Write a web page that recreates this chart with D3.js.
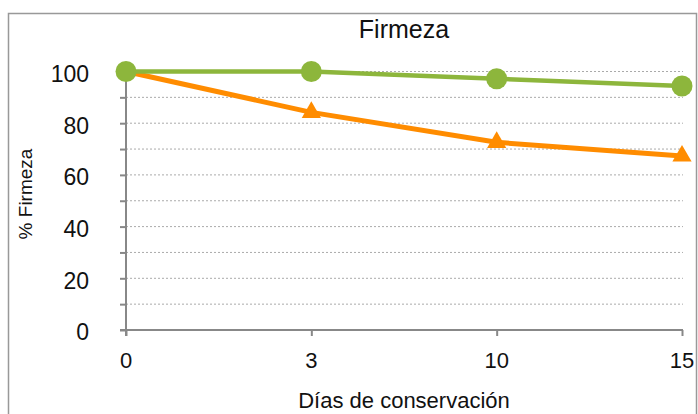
<!DOCTYPE html>
<html>
<head>
<meta charset="utf-8">
<script src="https://cdn.jsdelivr.net/npm/d3@7"></script>
<style>
  body { margin: 0; background: #fff; }
  text { font-family: "Liberation Sans", Arial, sans-serif; fill: #111; }
</style>
</head>
<body>
<div id="chart"></div>
<script>
// Datos
const dias = ['0', '3', '10', '15'];
const serieVerde = [100, 100, 97.2, 94.4];
const serieNaranja = [100, 84.2, 72.6, 67.3];
const yTicks = [0, 20, 40, 60, 80, 100];
const yGrid = [10, 20, 30, 40, 50, 60, 70, 80, 90, 100];

const W = 698, H = 414;
const margin = { top: 71.5, right: 16, bottom: 84, left: 126 };
const width = W - margin.left - margin.right;
const height = H - margin.top - margin.bottom;

const svg = d3.select('#chart')
  .append('svg')
  .attr('width', W)
  .attr('height', H);

// Marco exterior
svg.append('rect')
  .attr('x', 8.5).attr('y', 13.5)
  .attr('width', 688).attr('height', 420)
  .attr('fill', 'none')
  .attr('stroke', '#999')
  .attr('stroke-width', 1.5);

const g = svg.append('g')
  .attr('transform', `translate(${margin.left},${margin.top})`);

const x = d3.scalePoint()
  .domain(dias)
  .range([0, width]);

const y = d3.scaleLinear()
  .domain([0, 100])
  .range([height, 0]);

// Rejilla
g.selectAll('.grid')
  .data(yGrid)
  .enter()
  .append('line')
  .attr('x1', 0)
  .attr('x2', width + 1)
  .attr('y1', d => y(d))
  .attr('y2', d => y(d))
  .attr('stroke', '#aaa')
  .attr('stroke-width', 1)
  .attr('stroke-dasharray', '2,2');

// Eje Y
const yAxis = g.append('g')
  .call(d3.axisLeft(y).tickValues(yGrid.concat([0])).tickSize(6).tickFormat(''));
yAxis.select('.domain').remove();
yAxis.selectAll('line').attr('stroke', '#888').attr('stroke-width', 2);

g.append('line')
  .attr('x1', 0).attr('x2', 0)
  .attr('y1', y(100) + 8).attr('y2', height + 6)
  .attr('stroke', '#888').attr('stroke-width', 2);

g.selectAll('.ylab')
  .data(yTicks)
  .enter()
  .append('text')
  .attr('x', -37)
  .attr('y', d => y(d))
  .attr('dy', '0.45em')
  .attr('text-anchor', 'end')
  .attr('font-size', '23px')
  .text(d => d);

// Eje X
const xAxis = g.append('g')
  .attr('transform', `translate(0, ${height})`)
  .call(d3.axisBottom(x).tickSize(6).tickFormat(''));
xAxis.select('.domain').remove();
xAxis.selectAll('line').attr('stroke', '#888').attr('stroke-width', 2);

g.append('line')
  .attr('x1', -6).attr('x2', width + 1)
  .attr('y1', height).attr('y2', height)
  .attr('stroke', '#888').attr('stroke-width', 2);

g.selectAll('.xlab')
  .data(dias)
  .enter()
  .append('text')
  .attr('x', d => x(d))
  .attr('y', height + 38)
  .attr('text-anchor', 'middle')
  .attr('font-size', '22px')
  .text(d => d);

// Líneas
const line = d3.line()
  .x((d, i) => x(dias[i]))
  .y(d => y(d));

g.append('path')
  .datum(serieNaranja)
  .attr('fill', 'none')
  .attr('stroke', '#ff8c00')
  .attr('stroke-width', 5)
  .attr('d', line);

g.append('path')
  .datum(serieVerde)
  .attr('fill', 'none')
  .attr('stroke', '#8db63c')
  .attr('stroke-width', 4.5)
  .attr('d', line);

// Marcadores
const tri = d3.symbol().type(d3.symbolTriangle).size(160);
g.selectAll('.tri')
  .data(serieNaranja.slice(1))
  .enter()
  .append('path')
  .attr('d', tri)
  .attr('transform', (d, i) => `translate(${x(dias[i + 1])},${y(d)})`)
  .attr('fill', '#ff8c00');

g.selectAll('.dot')
  .data(serieVerde)
  .enter()
  .append('circle')
  .attr('cx', (d, i) => x(dias[i]))
  .attr('cy', d => y(d))
  .attr('r', 10.5)
  .attr('fill', '#8db63c');

// Títulos
svg.append('text')
  .attr('x', 404)
  .attr('y', 38)
  .attr('text-anchor', 'middle')
  .attr('font-size', '25px')
  .text('Firmeza');

svg.append('text')
  .attr('transform', 'rotate(-90)')
  .attr('x', -194)
  .attr('y', 32)
  .attr('text-anchor', 'middle')
  .attr('font-size', '19px')
  .text('% Firmeza');

svg.append('text')
  .attr('x', 404)
  .attr('y', 408)
  .attr('text-anchor', 'middle')
  .attr('font-size', '22px')
  .text('Días de conservación');
</script>
</body>
</html>
